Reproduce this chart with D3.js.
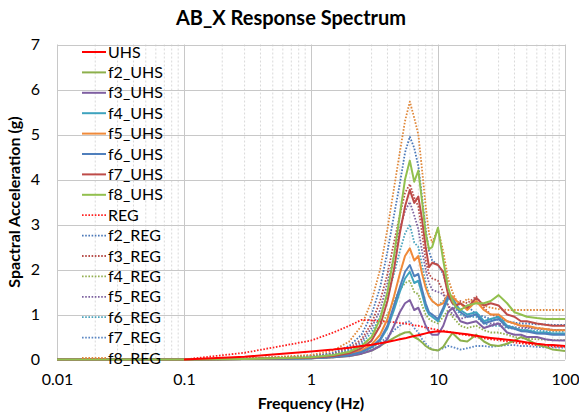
<!DOCTYPE html>
<html>
<head>
<meta charset="utf-8">
<script src="https://cdn.jsdelivr.net/npm/d3@7"></script>
<style>
  body { margin: 0; background: #fff; }
  text { font-family: Lato, "Open Sans", sans-serif; fill: #000; }
</style>
</head>
<body>
<div id="chart"></div>
<script>
// frequencies (Hz) shared by every series
var freq = [0.01, 0.1, 0.3, 1, 1.5, 2, 2.5, 3, 3.5, 4, 4.5, 5, 5.5, 6, 6.5, 7, 7.5, 8, 8.5, 9,
            10, 11, 12, 13, 14, 15, 17, 20, 23, 26, 30, 35, 40, 45, 50, 60, 70, 80, 100];

// spectral acceleration (g)
var UHS     = [null, 0, 0.06, 0.18, 0.22, 0.26, 0.3, 0.33, 0.36, 0.39, 0.42, 0.45, 0.47, 0.5, 0.52, 0.54, 0.56, 0.58, 0.6, 0.61,
               0.63, 0.62, 0.61, 0.6, 0.59, 0.58, 0.56, 0.53, 0.5, 0.48, 0.46, 0.44, 0.42, 0.4, 0.38, 0.35, 0.33, 0.32, 0.3];
var f2_UHS  = [0, 0, 0.01, 0.03, 0.05, 0.08, 0.13, 0.2, 0.3, 0.4, 0.48, 0.55, 0.6, 0.61, 0.5, 0.45, 0.38, 0.3, 0.25, 0.22,
               0.2, 0.28, 0.45, 0.59, 0.5, 0.42, 0.4, 0.55, 0.4, 0.32, 0.3, 0.35, 0.42, 0.5, 0.45, 0.33, 0.28, 0.22, 0.19];
var f3_UHS  = [0, 0, 0.01, 0.03, 0.05, 0.08, 0.13, 0.2, 0.3, 0.45, 0.75, 1.05, 1.25, 1.32, 1.1, 1.15, 0.95, 0.75, 0.62, 0.55,
               0.55, 0.75, 1.05, 1.15, 1.0, 0.85, 0.8, 0.85, 0.7, 0.75, 0.8, 0.6, 0.55, 0.55, 0.5, 0.5, 0.45, 0.43, 0.42];
var f4_UHS  = [0, 0, 0.01, 0.03, 0.06, 0.1, 0.17, 0.27, 0.42, 0.7, 1.1, 1.5, 1.8, 1.95, 1.7, 1.75, 1.45, 1.15, 1.0, 0.95,
               0.85, 1.1, 1.35, 1.38, 1.2, 1.1, 1.0, 1.05, 0.85, 0.9, 0.95, 0.75, 0.7, 0.65, 0.65, 0.6, 0.6, 0.58, 0.58];
var f5_UHS  = [0, 0, 0.01, 0.04, 0.07, 0.12, 0.2, 0.33, 0.55, 0.9, 1.4, 1.9, 2.3, 2.47, 2.2, 2.3, 1.9, 1.6, 1.4, 1.3,
               1.2, 1.25, 1.45, 1.4, 1.3, 1.25, 1.1, 1.3, 1.1, 1.0, 1.0, 0.85, 0.8, 0.75, 0.75, 0.7, 0.68, 0.65, 0.65];
var f6_UHS  = [0, 0, 0.01, 0.03, 0.06, 0.1, 0.17, 0.28, 0.45, 0.75, 1.2, 1.6, 1.95, 2.1, 1.85, 1.9, 1.55, 1.25, 1.05, 1.0,
               0.9, 1.15, 1.4, 1.3, 1.15, 1.05, 0.95, 1.0, 0.8, 0.85, 0.9, 0.72, 0.68, 0.63, 0.62, 0.58, 0.57, 0.55, 0.55];
var f7_UHS  = [0, 0, 0.01, 0.04, 0.08, 0.14, 0.25, 0.42, 0.75, 1.3, 2.0, 2.8, 3.4, 3.77, 3.48, 3.62, 3.1, 2.5, 2.05, 2.15,
               2.1, 1.95, 1.45, 1.25, 1.2, 1.25, 1.15, 1.37, 1.2, 1.25, 1.2, 1.0, 0.95, 0.85, 0.85, 0.8, 0.77, 0.75, 0.75];
var f8_UHS  = [0, 0, 0.01, 0.05, 0.1, 0.17, 0.3, 0.5, 0.9, 1.5, 2.3, 3.2, 4.0, 4.42, 3.95, 4.2, 3.5, 2.8, 2.45, 2.5,
               2.93, 2.2, 1.6, 1.3, 1.15, 1.1, 1.2, 1.25, 1.25, 1.3, 1.43, 1.25, 1.05, 1.0, 0.95, 0.92, 0.9, 0.9, 0.9];
var REG     = [null, 0, 0.15, 0.42, 0.6, 0.75, 0.88, 0.87, 0.85, 0.84, 0.83, 0.81, 0.8, 0.78, 0.76, 0.75, 0.73, 0.71, 0.7, 0.68,
               0.66, 0.64, 0.62, 0.6, 0.58, 0.56, 0.54, 0.5, 0.47, 0.45, 0.43, 0.4, 0.38, 0.36, 0.35, 0.32, 0.3, 0.29, 0.28];
var f2_REG  = [0, 0, 0.02, 0.08, 0.15, 0.3, 0.55, 1.0, 1.6, 2.4, 3.2, 3.9, 4.6, 4.95, 4.7, 4.3, 3.6, 2.9, 2.4, 2.2,
               2.1, 1.9, 1.5, 1.3, 1.15, 1.1, 1.2, 1.0, 0.95, 0.9, 0.88, 0.85, 0.82, 0.8, 0.8, 0.78, 0.78, 0.77, 0.77];
var f3_REG  = [0, 0, 0.02, 0.07, 0.13, 0.25, 0.45, 0.8, 1.3, 1.9, 2.6, 3.2, 3.7, 3.9, 3.6, 3.4, 2.8, 2.2, 1.9, 1.8,
               1.75, 1.5, 1.2, 1.1, 1.2, 1.3, 1.25, 1.4, 1.15, 1.0, 0.95, 0.85, 0.8, 0.75, 0.72, 0.7, 0.68, 0.66, 0.65];
var f4_REG  = [0, 0, 0.01, 0.05, 0.1, 0.18, 0.3, 0.5, 0.75, 1.0, 1.3, 1.55, 1.7, 1.75, 1.5, 1.45, 1.2, 1.0, 0.9, 0.85,
               0.8, 0.95, 1.1, 0.95, 0.85, 0.75, 0.7, 0.75, 0.65, 0.6, 0.6, 0.55, 0.5, 0.48, 0.46, 0.45, 0.44, 0.43, 0.43];
var f5_REG  = [0, 0, 0.02, 0.07, 0.12, 0.22, 0.4, 0.7, 1.1, 1.7, 2.3, 2.9, 3.3, 3.5, 3.2, 2.9, 2.4, 2.0, 1.7, 1.55,
               1.5, 1.45, 1.2, 1.0, 0.95, 0.9, 0.95, 1.0, 0.85, 0.8, 0.8, 0.75, 0.72, 0.7, 0.7, 0.68, 0.67, 0.66, 0.66];
var f6_REG  = [0, 0, 0.02, 0.06, 0.11, 0.2, 0.35, 0.6, 0.95, 1.4, 1.9, 2.4, 2.8, 3.0, 2.6, 2.5, 2.1, 1.7, 1.45, 1.3,
               1.2, 1.3, 1.4, 1.25, 1.1, 1.0, 0.95, 0.95, 0.8, 0.75, 0.75, 0.7, 0.68, 0.66, 0.65, 0.64, 0.63, 0.62, 0.62];
var f7_REG  = [0, 0, 0.01, 0.03, 0.05, 0.09, 0.15, 0.25, 0.38, 0.5, 0.65, 0.75, 0.82, 0.85, 0.7, 0.6, 0.45, 0.35, 0.28, 0.22,
               0.2, 0.25, 0.3, 0.28, 0.25, 0.22, 0.25, 0.3, 0.3, 0.28, 0.3, 0.32, 0.32, 0.3, 0.3, 0.28, 0.27, 0.27, 0.26];
var f8_REG  = [0, 0, 0.02, 0.1, 0.2, 0.4, 0.75, 1.3, 2.0, 2.9, 3.8, 4.6, 5.3, 5.73, 5.37, 5.0, 4.2, 3.4, 2.8, 2.6,
               2.9, 2.4, 1.8, 1.5, 1.3, 1.2, 1.35, 1.25, 1.2, 1.15, 1.12, 1.1, 1.1, 1.1, 1.1, 1.1, 1.1, 1.1, 1.1];

var names  = ['UHS', 'f2_UHS', 'f3_UHS', 'f4_UHS', 'f5_UHS', 'f6_UHS', 'f7_UHS', 'f8_UHS',
              'REG', 'f2_REG', 'f3_REG', 'f4_REG', 'f5_REG', 'f6_REG', 'f7_REG', 'f8_REG'];
var values = [UHS, f2_UHS, f3_UHS, f4_UHS, f5_UHS, f6_UHS, f7_UHS, f8_UHS,
              REG, f2_REG, f3_REG, f4_REG, f5_REG, f6_REG, f7_REG, f8_REG];
var colors = ['#ff0000', '#8db04c', '#7f5fa2', '#3ea3be', '#f08a3a', '#4f7fbc', '#be4b48', '#92c04e',
              '#ff2020', '#4a78b8', '#b8504d', '#93b050', '#7d62a0', '#4aa3bd', '#5b87c4', '#e0883a'];

var xTicks = [0.01, 0.1, 1, 10, 100];
var yTicks = [0, 1, 2, 3, 4, 5, 6, 7];

var W = 579, H = 412;
var margin = { left: 57, right: 14, top: 44, bottom: 52 };

var svg = d3.select('#chart').append('svg')
    .attr('width', W)
    .attr('height', H);

var x = d3.scaleLog()
    .domain([0.01, 100])
    .range([margin.left, W - margin.right]);

var y = d3.scaleLinear()
    .domain([0, 7])
    .range([H - margin.bottom - 0.5, margin.top + 0.5]);

// minor vertical grid (2..9 inside each decade)
var minor = [];
xTicks.slice(0, -1).forEach(function(d) {
    for (var k = 2; k <= 9; k++) minor.push(d * k);
});
svg.append('g').selectAll('line')
    .data(minor)
    .enter().append('line')
    .attr('x1', function(d) { return x(d); })
    .attr('x2', function(d) { return x(d); })
    .attr('y1', y(7))
    .attr('y2', y(0))
    .attr('stroke', '#d9d9d9')
    .attr('stroke-width', 1)
    .attr('stroke-dasharray', '2,2');

// major grid
svg.append('g').selectAll('line')
    .data(xTicks)
    .enter().append('line')
    .attr('x1', function(d) { return Math.round(x(d)) + 0.5; })
    .attr('x2', function(d) { return Math.round(x(d)) + 0.5; })
    .attr('y1', y(7))
    .attr('y2', y(0))
    .attr('stroke', '#c8c8c8');

svg.append('g').selectAll('line')
    .data(yTicks)
    .enter().append('line')
    .attr('x1', x(0.01))
    .attr('x2', x(100))
    .attr('y1', function(d) { return Math.round(y(d)) + 0.5; })
    .attr('y2', function(d) { return Math.round(y(d)) + 0.5; })
    .attr('stroke', '#c8c8c8');

// axes (labels only, Excel style)
var xAxis = d3.axisBottom(x)
    .tickValues(xTicks)
    .tickSize(0)
    .tickPadding(14)
    .tickFormat(function(d) { return d3.format('~g')(d); });

var yAxis = d3.axisLeft(y)
    .tickValues(yTicks)
    .tickSize(0)
    .tickPadding(17)
    .tickFormat(d3.format('d'));

svg.append('g')
    .attr('transform', 'translate(0,' + y(0) + ')')
    .call(xAxis)
    .call(function(g) { g.select('.domain').remove(); })
    .selectAll('text')
    .style('font-size', '16px');

svg.append('g')
    .attr('transform', 'translate(' + x(0.01) + ',0)')
    .call(yAxis)
    .call(function(g) { g.select('.domain').remove(); })
    .selectAll('text')
    .style('font-size', '16px');

// series
var line = d3.line()
    .defined(function(d) { return d[1] !== null; })
    .x(function(d) { return x(d[0]); })
    .y(function(d) { return y(d[1]); });

var order = [9, 10, 11, 12, 13, 14, 15, 8, 1, 2, 3, 4, 5, 6, 7, 0];
svg.append('g').selectAll('path')
    .data(order)
    .enter().append('path')
    .attr('d', function(i) {
        return line(freq.map(function(f, k) { return [f, values[i][k]]; }));
    })
    .attr('fill', 'none')
    .attr('stroke', function(i) { return colors[i]; })
    .attr('stroke-width', function(i) { return i < 8 ? 2 : 1.8; })
    .attr('stroke-dasharray', function(i) { return i < 8 ? null : '1.6,1.6'; })
    .attr('stroke-linejoin', 'round');

// legend
var legend = svg.append('g').selectAll('g')
    .data(names)
    .enter().append('g')
    .attr('transform', function(d, i) { return 'translate(82,' + (52 + i * 20.4) + ')'; });

legend.append('line')
    .attr('x1', 0)
    .attr('x2', 24)
    .attr('stroke', function(d, i) { return colors[i]; })
    .attr('stroke-width', function(d, i) { return i < 8 ? 2 : 1.8; })
    .attr('stroke-dasharray', function(d, i) { return i < 8 ? null : '1.6,1.6'; });

legend.append('text')
    .attr('x', 26)
    .attr('dy', '0.35em')
    .style('font-size', '16px')
    .text(function(d) { return d; });

// titles
svg.append('text')
    .attr('x', 291)
    .attr('y', 25)
    .attr('text-anchor', 'middle')
    .style('font-size', '20px')
    .style('font-weight', 'bold')
    .text('AB_X Response Spectrum');

svg.append('text')
    .attr('x', 311)
    .attr('y', 409)
    .attr('text-anchor', 'middle')
    .style('font-size', '16px')
    .style('font-weight', 'bold')
    .text('Frequency (Hz)');

svg.append('text')
    .attr('transform', 'translate(20,' + y(3.5) + ') rotate(-90)')
    .attr('text-anchor', 'middle')
    .style('font-size', '16px')
    .style('font-weight', 'bold')
    .text('Spactral Acceleration (g)');
</script>
</body>
</html>
